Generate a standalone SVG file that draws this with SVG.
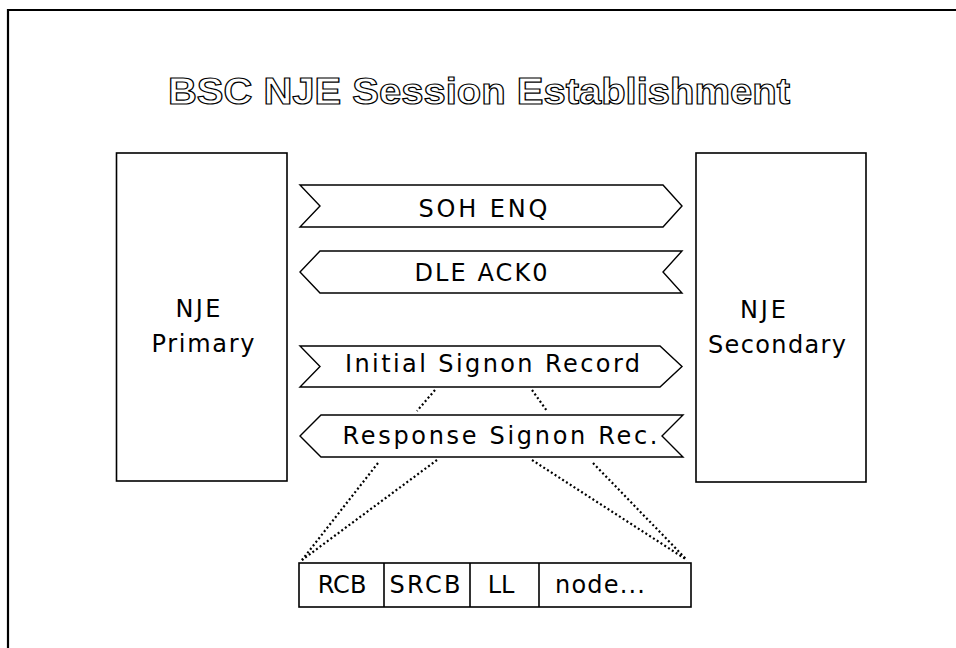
<svg xmlns="http://www.w3.org/2000/svg" width="956" height="648" viewBox="0 0 956 648">
<style>
.box{fill:#fff;stroke:#000;stroke-width:1.6}
.ban{fill:#fff;stroke:#000;stroke-width:1.4;stroke-linejoin:miter}
.t{font-family:"DejaVu Sans","Liberation Sans",sans-serif;font-size:24px;fill:#000;text-anchor:middle}
.dot{stroke:#000;stroke-width:2.2;stroke-dasharray:2 2.5;fill:none}
.title{font-family:"Liberation Sans",Arial,sans-serif;font-weight:bold;font-size:37px;fill:#fff;stroke:#000;stroke-width:1.2}
</style>
<rect width="956" height="648" fill="#fff"/>
<path d="M8 648 V10 H956" fill="none" stroke="#000" stroke-width="2.2"/>
<text class="title" x="168" y="104" textLength="622" lengthAdjust="spacingAndGlyphs">BSC NJE Session Establishment</text>
<g id="primary">
<rect class="box" x="116.5" y="153" width="170.5" height="328"/>
<text class="t" x="198" y="317" textLength="45">NJE</text>
<text class="t" x="203" y="352" textLength="103">Primary</text>
</g>
<g id="secondary">
<rect class="box" x="696" y="153" width="170" height="329"/>
<text class="t" x="763" y="318" textLength="46">NJE</text>
<text class="t" x="777" y="353" textLength="138">Secondary</text>
</g>
<g id="soh-enq">
<polygon class="ban" points="300,185 663,185 682,206 663,227 300,227 320,206"/>
<text class="t" x="483" y="216.5" textLength="129">SOH ENQ</text>
</g>
<g id="dle-ack0">
<polygon class="ban" points="320,251 682,251 663,272 682,293 320,293 300,272"/>
<text class="t" x="481" y="281" textLength="133">DLE ACK0</text>
</g>
<g id="initial-signon">
<polygon class="ban" points="300,346 660,346 682,366.5 660,387 300,387 320,366.5"/>
<text class="t" x="492.5" y="372" textLength="295">Initial Signon Record</text>
</g>
<g id="response-signon">
<polygon class="ban" points="321,415 683,415 662,436 683,457 321,457 300,436"/>
<text class="t" x="500" y="444" textLength="315">Response Signon Rec.</text>
</g>
<g id="connectors">
<line class="dot" x1="435" y1="390" x2="417" y2="411"/>
<line class="dot" x1="532" y1="390" x2="547" y2="411"/>
<line class="dot" x1="378" y1="463" x2="302" y2="560"/>
<line class="dot" x1="437" y1="460" x2="302" y2="560"/>
<line class="dot" x1="532" y1="460" x2="687" y2="560"/>
<line class="dot" x1="593" y1="463" x2="687" y2="560"/>
</g>
<g id="record">
<rect class="box" x="299" y="563" width="392" height="44"/>
<line x1="384" y1="563" x2="384" y2="607" stroke="#000" stroke-width="1.6"/>
<line x1="470" y1="563" x2="470" y2="607" stroke="#000" stroke-width="1.6"/>
<line x1="539" y1="563" x2="539" y2="607" stroke="#000" stroke-width="1.6"/>
<text class="t" x="342" y="593">RCB</text>
<text class="t" x="425" y="593" textLength="71">SRCB</text>
<text class="t" x="501" y="593">LL</text>
<text class="t" x="600" y="593" textLength="90">node...</text>
</g>
</svg>
